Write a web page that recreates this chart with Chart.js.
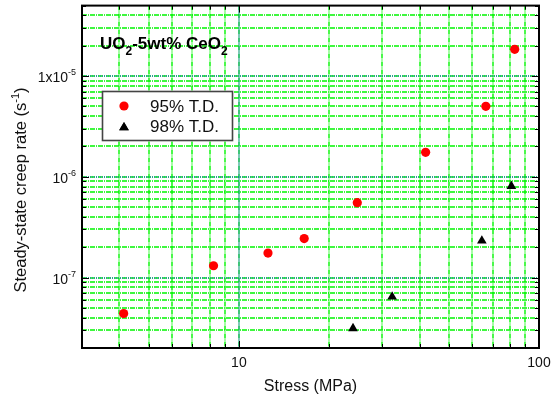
<!DOCTYPE html>
<html>
<head>
<meta charset="utf-8">
<script src="https://cdn.jsdelivr.net/npm/chart.js@4"></script>
<style>
  body { margin: 0; background: #fff; }
  canvas { display: block; }
</style>
</head>
<body>
<canvas id="creepChart" width="556" height="401"></canvas>
<script>
// stress (MPa) and steady-state creep rate (1/s)
const stress95 = [4.13, 8.23, 12.5, 16.5, 24.8, 41.9, 66.5, 83.0];
const rate95 = [4.4e-8, 1.31e-7, 1.75e-7, 2.44e-7, 5.53e-7, 1.75e-6, 5.0e-6, 1.84e-5];
const stress98 = [24.0, 32.4, 64.5, 80.9];
const rate98 = [3.13e-8, 6.44e-8, 2.32e-7, 8.09e-7];

const seriesNames = ["95% T.D.", "98% T.D."];

const xTicks = [3, 4, 5, 6, 7, 8, 9, 10, 20, 30, 40, 50, 60, 70, 80, 90, 100];
const yTicks = [2e-8, 3e-8, 4e-8, 5e-8, 6e-8, 7e-8, 8e-8, 9e-8,
    1e-7, 2e-7, 3e-7, 4e-7, 5e-7, 6e-7, 7e-7, 8e-7, 9e-7,
    1e-6, 2e-6, 3e-6, 4e-6, 5e-6, 6e-6, 7e-6, 8e-6, 9e-6,
    1e-5, 2e-5, 3e-5, 4e-5, 5e-5];
const xLabels = { 10: "10", 100: "100" };
const yLabels = [[1e-5, "1x10", "-5"], [1e-6, "10", "-6"], [1e-7, "10", "-7"]];

function isDecade(v) {
    let l = Math.log10(v);
    return Math.abs(l - Math.round(l)) < 1e-9;
}

function toPoints(xs, ys) {
    return xs.map((x, i) => ({ x: x, y: ys[i] }));
}

// text with superscript, right aligned at xr
function supText(ctx, base, sup, xr, y, size) {
    ctx.font = size + "px Arial, 'Liberation Sans'";
    let wb = ctx.measureText(base).width;
    ctx.font = Math.round(size * 0.66) + "px Arial, 'Liberation Sans'";
    let ws = ctx.measureText(sup).width;
    let x0 = xr - wb - ws;
    ctx.textAlign = "left";
    ctx.font = size + "px Arial, 'Liberation Sans'";
    ctx.fillText(base, x0, y);
    ctx.font = Math.round(size * 0.66) + "px Arial, 'Liberation Sans'";
    ctx.fillText(sup, x0 + wb, y - size * 0.5);
}

const gridPlugin = {
    id: "gridLines",
    beforeDatasetsDraw(chart) {
        const ctx = chart.ctx;
        const area = chart.chartArea;
        const xs = chart.scales.x, ys = chart.scales.y;
        let xPix = xTicks.slice(1, -1).map(v => [Math.round(xs.getPixelForValue(v)), isDecade(v)]);
        let yPix = yTicks.slice(1, -1).map(v => [Math.round(ys.getPixelForValue(v)), isDecade(v)]);
        ctx.save();
        ctx.lineWidth = 1.4;
        // green dash-dot on every tick
        ctx.strokeStyle = "rgb(0,245,0)";
        ctx.setLineDash([5, 1, 1, 1]);
        ctx.beginPath();
        xPix.forEach(p => { ctx.moveTo(p[0], area.top); ctx.lineTo(p[0], area.bottom); });
        yPix.forEach(p => { ctx.moveTo(area.left, p[0]); ctx.lineTo(area.right, p[0]); });
        ctx.stroke();
        // blue dots over the decades
        ctx.strokeStyle = "rgb(30,80,220)";
        ctx.lineWidth = 1.2;
        ctx.setLineDash([1, 1]);
        ctx.beginPath();
        xPix.filter(p => p[1]).forEach(p => { ctx.moveTo(p[0], area.top); ctx.lineTo(p[0], area.bottom); });
        yPix.filter(p => p[1]).forEach(p => { ctx.moveTo(area.left, p[0]); ctx.lineTo(area.right, p[0]); });
        ctx.stroke();
        ctx.restore();
    }
};

const decorPlugin = {
    id: "decor",
    afterDraw(chart) {
        const ctx = chart.ctx;
        const area = chart.chartArea;
        const xs = chart.scales.x, ys = chart.scales.y;
        ctx.save();

        // inward ticks on all four sides
        ctx.strokeStyle = "#000";
        ctx.lineWidth = 1;
        ctx.beginPath();
        xTicks.forEach(v => {
            let px = Math.round(xs.getPixelForValue(v)) + 0.5;
            let len = isDecade(v) ? 7 : 4;
            ctx.moveTo(px, area.bottom); ctx.lineTo(px, area.bottom - len);
            ctx.moveTo(px, area.top); ctx.lineTo(px, area.top + len);
        });
        yTicks.forEach(v => {
            let py = Math.round(ys.getPixelForValue(v)) + 0.5;
            let len = isDecade(v) ? 7 : 4;
            ctx.moveTo(area.left, py); ctx.lineTo(area.left + len, py);
            ctx.moveTo(area.right, py); ctx.lineTo(area.right - len, py);
        });
        ctx.stroke();

        // frame
        ctx.lineWidth = 2;
        ctx.strokeRect(area.left, area.top, area.right - area.left, area.bottom - area.top);

        // tick labels
        ctx.fillStyle = "#111";
        ctx.textBaseline = "alphabetic";
        ctx.font = "14px Arial, 'Liberation Sans'";
        ctx.textAlign = "center";
        Object.keys(xLabels).forEach(k => {
            ctx.fillText(xLabels[k], xs.getPixelForValue(Number(k)), area.bottom + 19);
        });
        yLabels.forEach(l => {
            supText(ctx, l[1], l[2], 76, ys.getPixelForValue(l[0]) + 6, 14);
        });

        // axis titles
        ctx.font = "16px Arial, 'Liberation Sans'";
        ctx.textAlign = "center";
        ctx.fillText("Stress (MPa)", (area.left + area.right) / 2, 391);

        ctx.save();
        ctx.translate(26, 190);
        ctx.rotate(-Math.PI / 2);
        ctx.font = "16.5px Arial, 'Liberation Sans'";
        let t1 = "Steady-state creep rate (s";
        let w1 = ctx.measureText(t1).width;
        ctx.font = "11px Arial, 'Liberation Sans'";
        let w2 = ctx.measureText("-1").width;
        ctx.font = "16.5px Arial, 'Liberation Sans'";
        let w3 = ctx.measureText(")").width;
        let x0 = -(w1 + w2 + w3) / 2;
        ctx.textAlign = "left";
        ctx.fillText(t1, x0, 0);
        ctx.font = "11px Arial, 'Liberation Sans'";
        ctx.fillText("-1", x0 + w1, -7);
        ctx.font = "16.5px Arial, 'Liberation Sans'";
        ctx.fillText(")", x0 + w1 + w2, 0);
        ctx.restore();

        // material label
        ctx.fillStyle = "#000";
        ctx.textAlign = "left";
        let parts = [["UO", false], ["2", true], ["-5wt% CeO", false], ["2", true]];
        let cx = 100;
        parts.forEach(p => {
            ctx.font = p[1] ? "bold 12px Arial, 'Liberation Sans'" : "bold 17px Arial, 'Liberation Sans'";
            ctx.fillText(p[0], cx, p[1] ? 55 : 49);
            cx += ctx.measureText(p[0]).width;
        });

        // legend box
        ctx.fillStyle = "#fff";
        ctx.fillRect(102, 91, 130, 49);
        ctx.strokeStyle = "#444";
        ctx.lineWidth = 1.6;
        ctx.strokeRect(102.5, 91.5, 130, 49);
        chart.data.datasets.forEach((ds, i) => {
            let my = 106 + i * 20;
            Chart.helpers.drawPoint(ctx, {
                pointStyle: ds.pointStyle,
                radius: ds.pointRadius,
                borderWidth: 0,
                rotation: 0
            }, 124, my + (i === 1 ? 1.5 : 0));
            ctx.fillStyle = ds.backgroundColor;
            ctx.fill();
            ctx.fillStyle = "#111";
            ctx.font = "17px Arial, 'Liberation Sans'";
            ctx.textAlign = "left";
            ctx.fillText(ds.label, 150, my + 6);
        });
        ctx.restore();
    }
};

new Chart(document.getElementById("creepChart").getContext("2d"), {
    type: "scatter",
    data: {
        datasets: [{
            label: seriesNames[0],
            data: toPoints(stress95, rate95),
            pointStyle: "circle",
            pointRadius: 4.6,
            backgroundColor: "#ff0000",
            borderWidth: 0
        }, {
            label: seriesNames[1],
            data: toPoints(stress98, rate98),
            pointStyle: "triangle",
            pointRadius: 5.6,
            backgroundColor: "#000",
            borderWidth: 0
        }]
    },
    options: {
        responsive: false,
        animation: false,
        devicePixelRatio: 1,
        layout: { padding: { left: 0, right: 17, top: 4, bottom: 0 } },
        plugins: {
            legend: { display: false },
            tooltip: { enabled: false }
        },
        scales: {
            x: {
                type: "logarithmic",
                min: 3,
                max: 100,
                afterBuildTicks: scale => { scale.ticks = xTicks.map(v => ({ value: v })); },
                afterFit: scale => { scale.height = 53; },
                ticks: { display: false },
                grid: { display: false },
                border: { display: false }
            },
            y: {
                type: "logarithmic",
                min: 2e-8,
                max: 5e-5,
                afterBuildTicks: scale => { scale.ticks = yTicks.map(v => ({ value: v })); },
                afterFit: scale => { scale.width = 82; },
                ticks: { display: false },
                grid: { display: false },
                border: { display: false }
            }
        }
    },
    plugins: [gridPlugin, decorPlugin]
});
</script>
</body>
</html>
